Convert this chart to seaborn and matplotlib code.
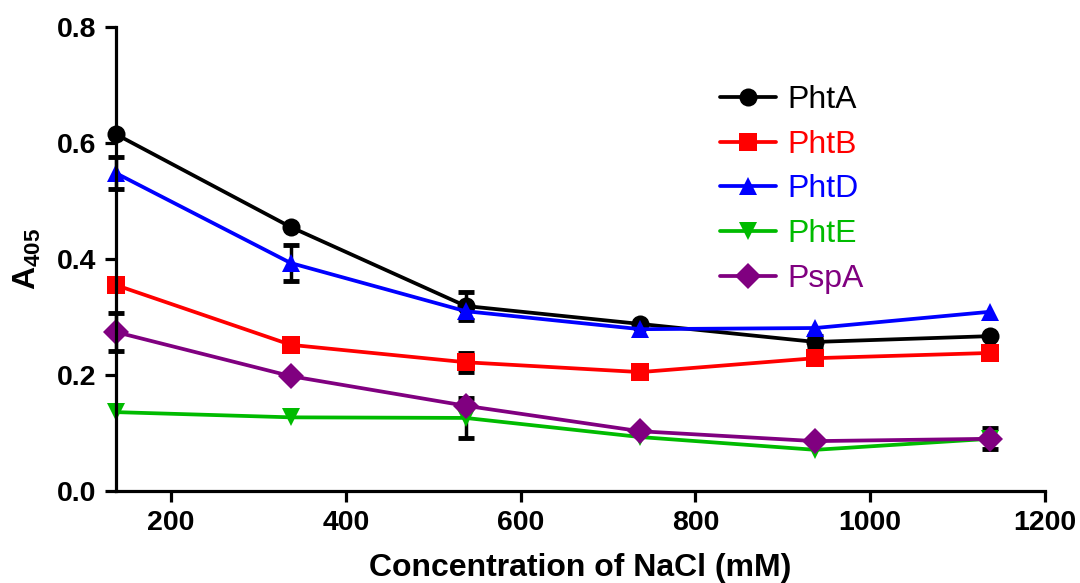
import matplotlib
matplotlib.use("Agg")
import matplotlib.pyplot as plt
import seaborn as sns
import pandas as pd
import numpy as np

nacl = [137, 337, 537, 737, 937, 1137]
series_names = ["PhtA", "PhtB", "PhtD", "PhtE", "PspA"]
phtA = [0.615, 0.455, 0.319, 0.288, 0.257, 0.267]
phtB = [0.355, 0.252, 0.222, 0.205, 0.229, 0.238]
phtD = [0.548, 0.393, 0.310, 0.279, 0.281, 0.309]
phtE = [0.136, 0.127, 0.126, 0.093, 0.071, 0.090]
pspA = [0.274, 0.198, 0.147, 0.103, 0.086, 0.090]
errA = [0.0, 0.0, 0.024, 0.0, 0.010, 0.0]
errB = [0.0, 0.0, 0.016, 0.0, 0.0, 0.0]
errD = [0.028, 0.031, 0.0, 0.0, 0.0, 0.0]
errE = [0.0, 0.0, 0.035, 0.0, 0.0, 0.0]
errP = [0.033, 0.0, 0.0, 0.0, 0.0, 0.018]
colors = ["#000000", "#ff0000", "#0000ff", "#00bb00", "#800080"]
marker_list = ["o", "s", "^", "v", "D"]

values = [phtA, phtB, phtD, phtE, pspA]
errs = [errA, errB, errD, errE, errP]

df = pd.DataFrame({
    "x": np.tile(nacl, len(series_names)),
    "y": np.concatenate(values),
    "err": np.concatenate(errs),
    "series": np.repeat(series_names, len(nacl)),
})

sns.set_theme(style="ticks")
plt.rcParams["font.family"] = ["Liberation Sans", "DejaVu Sans"]
plt.rcParams["text.color"] = "black"
plt.rcParams["axes.labelcolor"] = "black"
plt.rcParams["xtick.color"] = "black"
plt.rcParams["ytick.color"] = "black"
plt.rcParams["mathtext.fontset"] = "custom"
plt.rcParams["mathtext.rm"] = "Liberation Sans"
plt.rcParams["mathtext.bf"] = "Liberation Sans:bold"

fig = plt.figure(figsize=(10.8, 5.83), dpi=100)
ax = fig.add_axes([0.1074, 0.1578, 0.8602, 0.7959])

# black error bars (only where visible in the source)
mask = df["err"] > 0
ax.errorbar(df.loc[mask, "x"], df.loc[mask, "y"], yerr=df.loc[mask, "err"],
            fmt="none", ecolor="black", elinewidth=2.5, capsize=5.5,
            capthick=3.5, zorder=1, clip_on=False)

sns.lineplot(data=df, x="x", y="y", hue="series", style="series",
             hue_order=series_names, style_order=series_names,
             palette=dict(zip(series_names, colors)),
             markers=dict(zip(series_names, marker_list)), dashes=False,
             linewidth=2.7, markersize=13, markeredgewidth=0, ax=ax, zorder=2,
             clip_on=False)

ax.set_xlim(137, 1200)
ax.set_ylim(0, 0.8)
ax.set_xticks([200, 400, 600, 800, 1000, 1200])
ax.set_yticks([0.0, 0.2, 0.4, 0.6, 0.8])
ax.set_yticklabels(["0.0", "0.2", "0.4", "0.6", "0.8"])
sns.despine(ax=ax)
for s in ["left", "bottom"]:
    ax.spines[s].set_linewidth(2.3)
    ax.spines[s].set_color("black")
ax.tick_params(axis="both", width=2.3, length=8, color="black",
               labelsize=20.5, labelcolor="black", pad=6)
for lab in ax.get_xticklabels() + ax.get_yticklabels():
    lab.set_fontweight("bold")

ax.set_xlabel("Concentration of NaCl (mM)", fontsize=23, fontweight="bold", labelpad=12)
ax.set_ylabel(r"A$_{\mathbf{405}}$", fontsize=23, fontweight="bold", labelpad=10)

leg = ax.legend(loc="upper left", bbox_to_anchor=(0.65, 0.875), frameon=False,
                fontsize=23, handlelength=1.75, handletextpad=0.35,
                labelspacing=0.46, borderpad=0, borderaxespad=0,
                labelcolor="linecolor")

fig.savefig("out.png", dpi=100)
